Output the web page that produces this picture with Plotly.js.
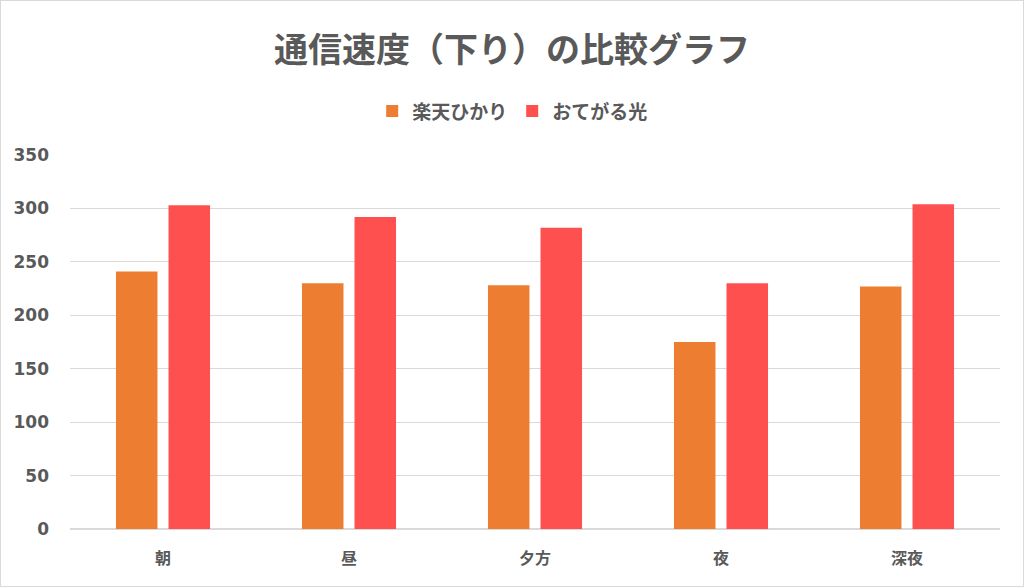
<!DOCTYPE html>
<html>
<head>
<meta charset="utf-8">
<script src="https://cdn.plot.ly/plotly-3.0.1.min.js"></script>
<style>
html,body{margin:0;padding:0;background:#fff;}
#chart{width:1024px;height:587px;outline:1px solid #d9d9d9;outline-offset:-1px;}
</style>
</head>
<body>
<div id="chart"></div>
<script>
const categories = ["朝", "昼", "夕方", "夜", "深夜"];
const rakutenValues = [241, 230, 228, 175, 227];
const otegaruValues = [303, 292, 282, 230, 304];
const seriesNames = ["楽天ひかり", "おてがる光"];
const yTicks = [0, 50, 100, 150, 200, 250, 300, 350];

const font = "'Noto Sans CJK JP', 'Noto Sans', sans-serif";
const numFont = "'DejaVu Sans', 'Noto Sans', sans-serif";
const traces = [
  {type: "bar", name: seriesNames[0], x: categories, y: rakutenValues,
   marker: {color: "#ED7D31"}},
  {type: "bar", name: seriesNames[1], x: categories, y: otegaruValues,
   marker: {color: "#FF5050"}}
];
const layout = {
  width: 1024, height: 587,
  margin: {l: 70, r: 24, t: 155, b: 58},
  paper_bgcolor: "rgba(0,0,0,0)", plot_bgcolor: "#fff",
  barmode: "group", bargap: 0.435, bargroupgap: 0.21,
  title: {text: "<b>通信速度（下り）の比較グラフ</b>", x: 0.5, xanchor: "center",
          y: 0.915, yref: "container", yanchor: "middle",
          font: {family: font, size: 34, color: "#595959"}},
  showlegend: true,
  legend: {orientation: "h", x: 0.476, xanchor: "center", y: 1.117, yanchor: "middle",
           font: {family: font, size: 19, color: "#595959", weight: "bold"},
           itemwidth: 30, traceorder: "normal"},
  xaxis: {tickfont: {family: font, size: 16, color: "#595959", weight: "bold"},
          showgrid: false, showline: false, ticks: "", ticklen: 0, ticklabelstandoff: 18},
  yaxis: {range: [0, 350], tickvals: yTicks, ticktext: yTicks.map(String),
          tickfont: {family: numFont, size: 17, color: "#595959", weight: "bold"},
          gridcolor: "#d9d9d9", gridwidth: 1, zeroline: true, zerolinecolor: "#d9d9d9",
          zerolinewidth: 1.5, ticks: "", ticklabelstandoff: 20, showline: false}
};
Plotly.newPlot("chart", traces, layout, {displayModeBar: false, staticPlot: true});
</script>
</body>
</html>
